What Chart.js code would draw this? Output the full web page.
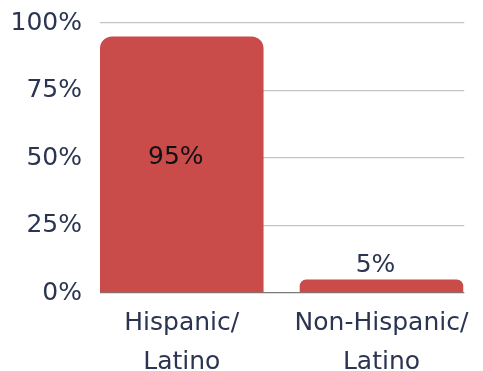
<!DOCTYPE html>
<html>
<head>
<meta charset="utf-8">
<script src="https://cdn.jsdelivr.net/npm/chart.js@4.4.1/dist/chart.umd.min.js"></script>
<style>
  html, body { margin: 0; padding: 0; background: #fff; }
  #wrap { width: 483px; height: 371px; }
</style>
</head>
<body>
<div id="wrap"><canvas id="grafico"></canvas></div>
<script>
const categorias = [['Hispanic/', 'Latino'], ['Non-Hispanic/', 'Latino']]
const percentuais = [95, 5]
const ticksY = [0, 25, 50, 75, 100]

const corBarra = '#c94b4a'
const corTexto = '#2b3552'
const fonte = "'DejaVu Sans', sans-serif"

// escreve o valor dentro da barra quando cabe, senao logo acima
const rotulosValor = {
    id: 'rotulosValor',
    afterDatasetsDraw(chart) {
        const ctx = chart.ctx
        const meta = chart.getDatasetMeta(0)
        ctx.save()
        ctx.font = '25px ' + fonte
        ctx.textAlign = 'center'
        meta.data.forEach((bar, i) => {
            const texto = percentuais[i] + '%'
            const altura = bar.base - bar.y
            if (altura > 40) {
                ctx.fillStyle = '#111'
                ctx.textBaseline = 'middle'
                ctx.fillText(texto, bar.x - 6, bar.y + altura / 2 - 7)
            } else {
                ctx.fillStyle = corTexto
                ctx.textBaseline = 'bottom'
                ctx.fillText(texto, bar.x - 6, bar.y - 2)
            }
        })
        ctx.restore()
    }
}

new Chart(document.getElementById('grafico'), {
    type: 'bar',
    data: {
        datasets: [{
            data: percentuais.map((v, i) => ({ x: i, y: v })),
            backgroundColor: corBarra,
            borderRadius: { topLeft: 12, topRight: 12 },
            borderSkipped: 'bottom',
            categoryPercentage: 1,
            barPercentage: 0.819
        }]
    },
    options: {
        responsive: true,
        maintainAspectRatio: false,
        animation: false,
        layout: { padding: { top: 23, right: 16, left: 0, bottom: 0 } },
        plugins: { legend: { display: false }, tooltip: { enabled: false } },
        scales: {
            x: {
                type: 'linear',
                offset: false,
                min: -0.4095,
                max: 1.4146,
                grid: { display: false, drawTicks: false },
                border: { display: false },
                afterBuildTicks: (scale) => {
                    scale.ticks = categorias.map((c, i) => ({ value: i }))
                },
                afterFit: (scale) => { scale.height = 78 },
                ticks: {
                    padding: 11,
                    color: corTexto,
                    font: { family: fonte, size: 25, lineHeight: 1.55 },
                    maxRotation: 0,
                    autoSkip: false,
                    callback: (v) => categorias[v]
                }
            },
            y: {
                min: 0,
                max: 100,
                afterBuildTicks: (scale) => {
                    scale.ticks = ticksY.map(v => ({ value: v }))
                },
                afterFit: (scale) => { scale.width = 100 },
                grid: {
                    drawTicks: false,
                    color: (c) => c.tick && c.tick.value === 0 ? '#7a7a7a' : '#c4c4c4',
                    lineWidth: 1.3
                },
                border: { display: false },
                ticks: {
                    padding: 18,
                    color: corTexto,
                    font: { family: fonte, size: 25, lineHeight: 0.2 },
                    callback: (v) => v + '%'
                }
            }
        }
    },
    plugins: [rotulosValor]
})
</script>
</body>
</html>
